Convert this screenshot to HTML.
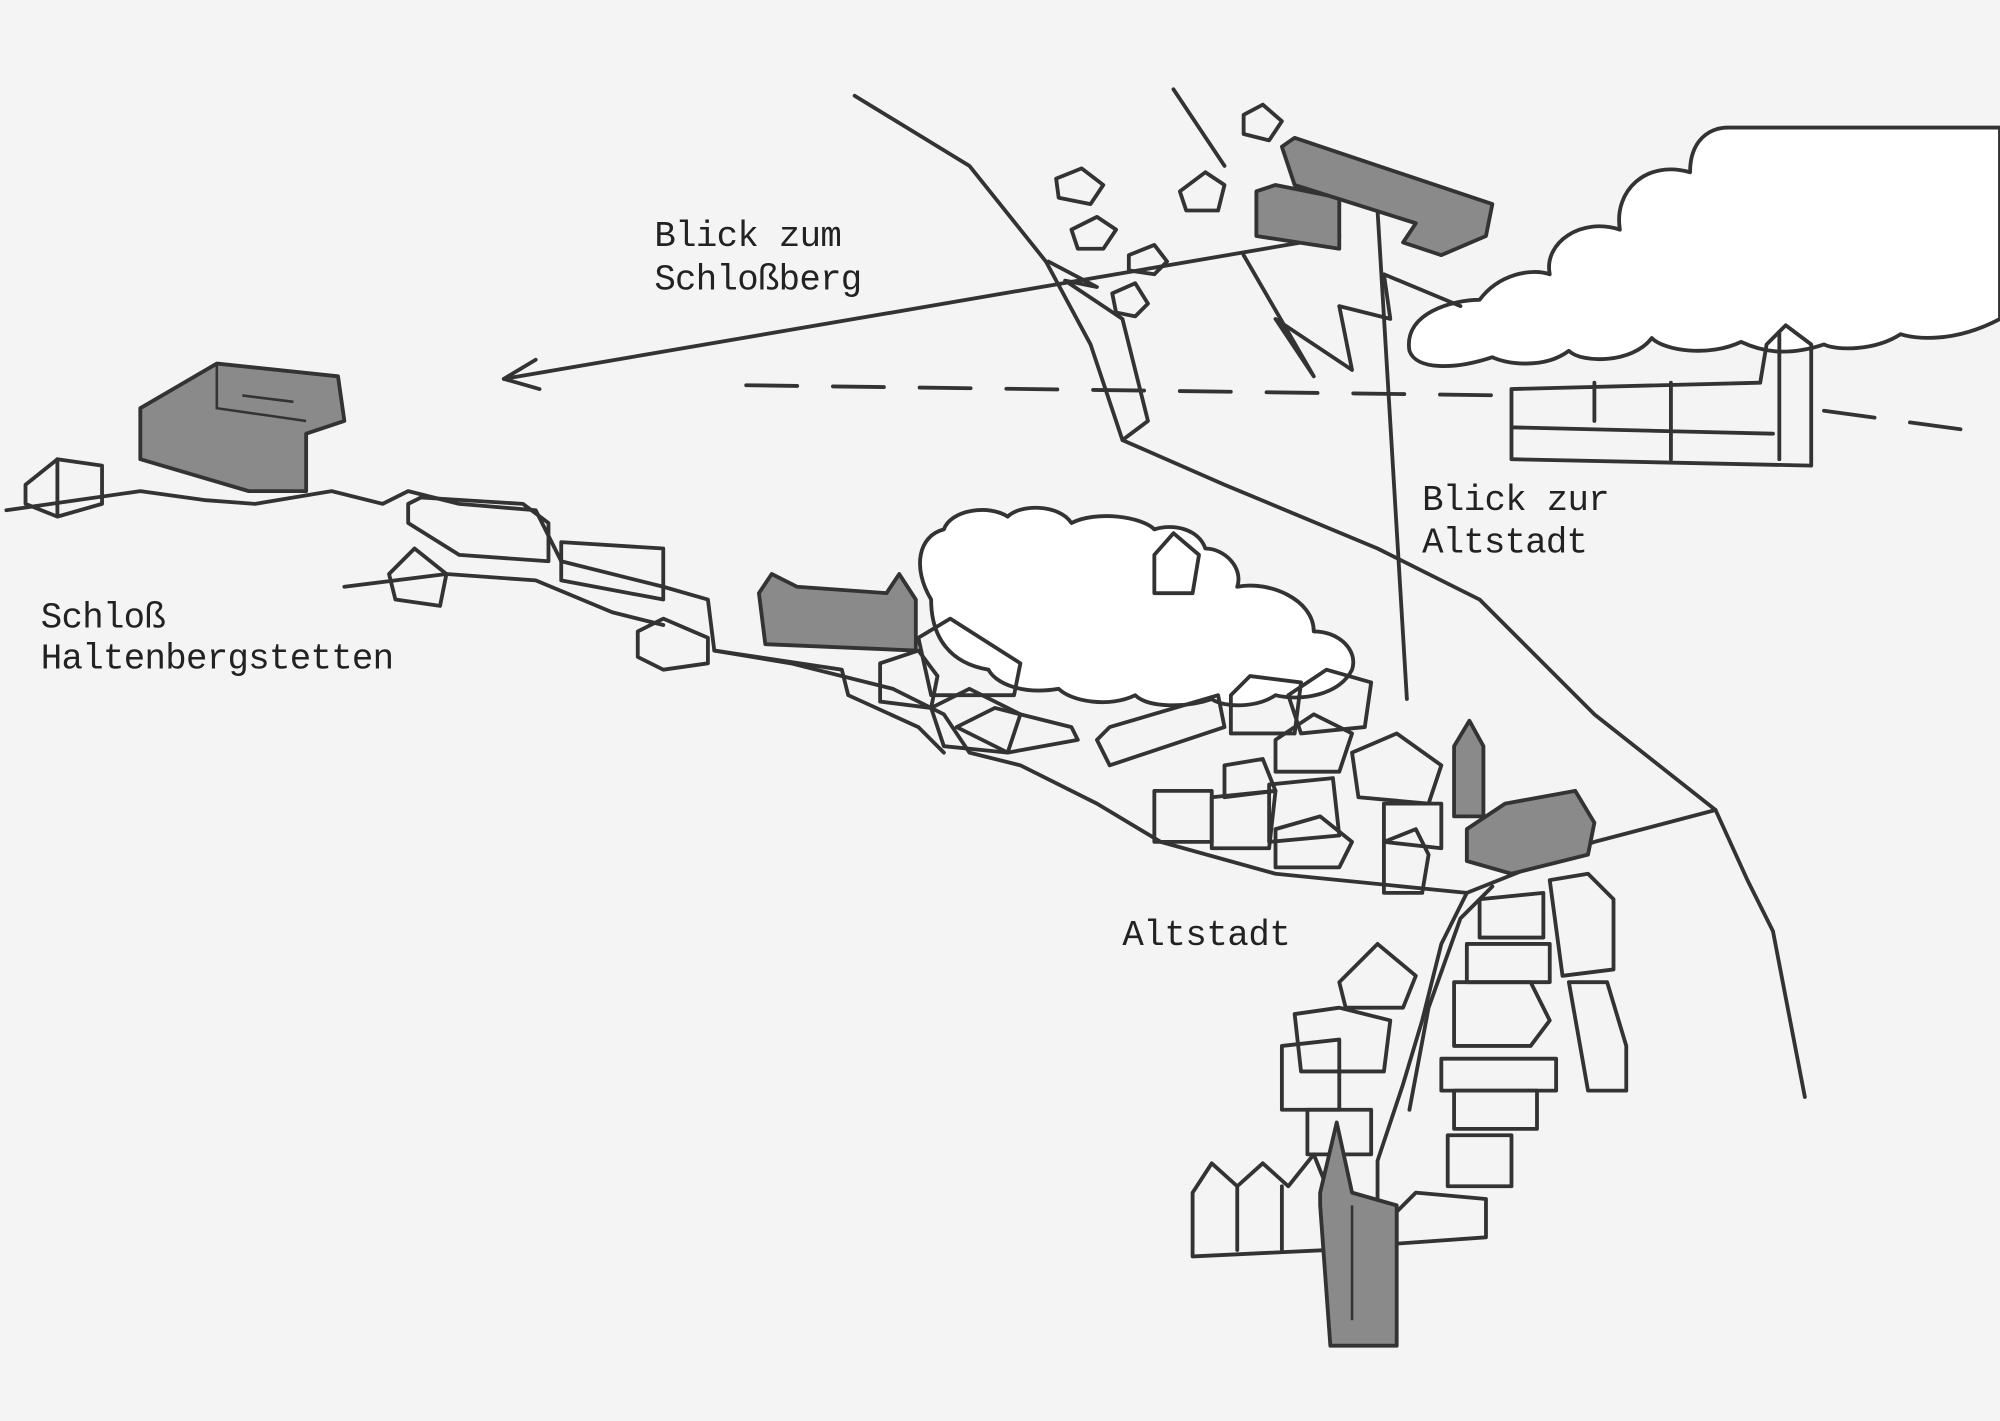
<!DOCTYPE html>
<html><head><meta charset="utf-8"><style>
html,body{margin:0;padding:0;background:#f4f4f4;}
svg{display:block;}
text{font-family:"Liberation Mono",monospace;font-size:28px;fill:#222;}
</style></head><body>
<svg width="2000" height="1421" viewBox="0 0 1568 1114" xmlns="http://www.w3.org/2000/svg">
<rect width="1568" height="1114" fill="#f4f4f4"/>
<!-- white sky area top right -->
<path d="M1355,100 L1568,100 L1568,250 L1490,265 L1440,270 Z" fill="#fff"/>
<g fill="none" stroke="#333" stroke-width="3" stroke-linejoin="round" stroke-linecap="round">
<!-- right cloud -->
<path d="M1105,275 C1100,245 1140,235 1160,235 C1175,215 1200,210 1215,215 C1210,190 1240,170 1270,180 C1265,150 1290,125 1325,135 C1325,110 1340,100 1355,100 L1568,100 L1568,250 C1530,270 1500,265 1490,262 C1470,275 1440,275 1430,270 C1400,280 1380,275 1365,268 C1340,280 1305,275 1295,265 C1280,285 1240,285 1230,275 C1210,290 1180,285 1170,280 C1140,290 1110,290 1105,275 Z" fill="#fff"/>
<!-- middle cloud -->
<path d="M730,470 C715,445 720,420 740,415 C745,400 775,395 790,405 C800,395 830,395 840,410 C860,400 895,405 905,415 C920,410 940,415 945,430 C960,430 975,445 970,460 C995,455 1030,470 1030,495 C1050,495 1065,510 1060,525 C1050,545 1020,550 1000,545 C985,555 960,555 950,548 C930,555 900,555 890,545 C870,555 840,550 830,540 C800,545 780,535 775,525 C745,520 730,500 730,470 Z" fill="#fff"/>
<!-- main road lines -->
<path d="M670,75 L760,130 L820,205 L855,270 L880,345 L960,380 L1080,430 L1160,470 L1250,560 L1345,635 L1370,690 L1390,730 L1415,860"/>
<path d="M822,205 L860,225 L835,220 L880,250 L900,330 L880,345"/>
<path d="M920,70 L960,130"/>
<path d="M975,200 L1030,295 L1000,250 L1060,290 L1050,240 L1090,250 L1085,215 L1145,240"/>
<path d="M1080,165 L1103,548"/>
<!-- arrow -->
<path d="M1050,185 L395,297"/>
<path d="M420,282 L395,297 L423,305"/>
<!-- dashed line -->
<path d="M585,302 L1180,310" stroke-dasharray="40,28"/>
<path d="M1430,322 L1548,338" stroke-dasharray="40,28"/>
<!-- right town block -->
<path d="M1185,305 L1185,360 L1420,365 M1185,335 L1390,340 M1250,300 L1250,330 M1310,300 L1310,360 M1185,305 L1380,300 M1380,300 L1385,270 L1400,255 L1420,270 L1420,365 M1395,260 L1395,360"/>
<!-- hill line -->
<path d="M5,400 L110,385 L160,392 L200,395 L260,385 L300,395 L320,385 L360,395 L420,400 L440,440 L520,460 L555,470 L560,510 L620,520 L700,540 L740,560 L760,590 L800,600 L860,630 L910,660 L1000,685 L1150,700 L1250,660 L1345,635"/>
<path d="M270,460 L350,450 L420,455 L480,480 L520,490"/>
<path d="M560,510 L660,525 L665,545 L720,570 L740,590"/>
<path d="M1150,700 L1130,740 L1115,800 L1100,850 L1080,910 L1080,950"/>
<path d="M1170,695 L1145,720 L1120,790 L1105,870"/>
<!-- small houses -->
<path d="M20,380 L45,360 L80,365 L80,395 L45,405 L20,395 Z M45,360 L45,405"/>
<path d="M320,395 L330,390 L410,395 L430,410 L430,440 L360,435 L320,410 Z"/>
<path d="M440,425 L520,430 L520,470 L440,455 Z"/>
<path d="M500,495 L520,485 L555,500 L555,520 L520,525 L500,515 Z"/>
<path d="M305,450 L325,430 L350,450 L345,475 L310,470 Z"/>
<path d="M905,435 L920,418 L940,435 L935,465 L905,465 Z"/>
<path d="M975,90 L990,82 L1005,95 L995,110 L975,105 Z"/>
<path d="M925,150 L945,135 L960,145 L955,165 L930,165 Z"/>
<path d="M828,140 L848,132 L865,145 L855,160 L830,155 Z"/>
<path d="M840,180 L860,170 L875,180 L865,195 L845,195 Z"/>
<path d="M885,200 L905,192 L915,205 L905,215 L885,212 Z"/>
<path d="M872,230 L890,222 L900,238 L890,248 L875,245 Z"/>
<!-- altstadt houses -->
<path d="M690,520 L720,510 L735,530 L730,555 L690,550 Z"/>
<path d="M720,500 L745,485 L800,520 L795,545 L730,545 Z"/>
<path d="M730,555 L760,540 L800,560 L790,590 L740,585 Z"/>
<path d="M750,570 L780,555 L840,570 L845,580 L790,590 Z"/>
<path d="M860,580 L870,570 L955,545 L960,570 L870,600 Z"/>
<path d="M965,545 L980,530 L1020,535 L1015,575 L965,575 Z"/>
<path d="M1010,545 L1040,525 L1075,535 L1070,570 L1020,575 Z"/>
<path d="M1000,580 L1030,560 L1060,575 L1050,605 L1000,605 Z"/>
<path d="M960,600 L990,595 L1000,620 L960,625 Z"/>
<path d="M905,620 L950,620 L950,660 L905,660 Z"/>
<path d="M950,625 L1000,620 L995,665 L950,665 Z"/>
<path d="M995,615 L1045,610 L1050,655 L995,660 Z"/>
<path d="M1000,650 L1035,640 L1060,660 L1050,680 L1000,680 Z"/>
<path d="M1060,590 L1095,575 L1130,600 L1120,630 L1065,625 Z"/>
<path d="M1085,630 L1130,630 L1130,665 L1085,660 Z"/>
<path d="M1085,660 L1110,650 L1120,670 L1115,700 L1085,700 Z"/>
<!-- lower street houses -->
<path d="M1050,770 L1080,740 L1110,765 L1100,790 L1055,790 Z"/>
<path d="M1015,795 L1050,790 L1090,800 L1085,840 L1020,840 Z"/>
<path d="M1005,820 L1050,815 L1050,870 L1005,870 Z"/>
<path d="M1025,870 L1075,870 L1075,905 L1025,905 Z"/>
<path d="M1160,705 L1210,700 L1210,735 L1160,735 Z"/>
<path d="M1150,740 L1215,740 L1215,770 L1150,770 Z"/>
<path d="M1140,770 L1200,770 L1215,800 L1200,820 L1140,820 Z"/>
<path d="M1130,830 L1220,830 L1220,855 L1130,855 Z"/>
<path d="M1140,855 L1205,855 L1205,885 L1140,885 Z"/>
<path d="M1135,890 L1185,890 L1185,930 L1135,930 Z"/>
<path d="M1215,690 L1245,685 L1265,705 L1265,760 L1225,765 Z"/>
<path d="M1230,770 L1260,770 L1275,820 L1275,855 L1245,855 Z"/>
<path d="M935,935 L950,912 L970,930 L990,912 L1010,930 L1030,905 L1040,930 L1040,980 L935,985 Z M970,930 L970,980 M1005,930 L1005,980"/>
<path d="M1095,950 L1110,935 L1165,940 L1165,970 L1095,975 Z"/>
</g>
<!-- gray buildings -->
<g fill="#8a8a8a" stroke="#333" stroke-width="3" stroke-linejoin="round">
<path d="M110,320 L170,285 L265,295 L270,330 L240,340 L240,385 L195,385 L110,360 Z"/>
<path d="M595,465 L605,450 L625,460 L695,465 L705,450 L718,470 L718,510 L600,505 Z"/>
<path d="M1140,585 L1152,565 L1163,585 L1163,640 L1140,640 Z"/>
<path d="M1150,650 L1180,630 L1235,620 L1250,645 L1245,670 L1185,685 L1150,675 Z"/>
<path d="M985,150 L1000,145 L1050,155 L1050,195 L985,185 Z"/>
<path d="M1005,115 L1015,108 L1170,160 L1165,185 L1130,200 L1100,190 L1110,175 L1015,145 Z"/>
<path d="M1035,945 L1035,935 L1048,880 L1060,935 L1095,945 L1095,1055 L1043,1055 Z"/>
</g>
<g stroke="#333" stroke-width="2" fill="none">
<path d="M170,285 L170,320 L240,330 M190,310 L230,315 M1060,945 L1060,1035"/>
</g>
<text x="513" y="193" textLength="147">Blick zum</text>
<text x="513" y="227" textLength="163">Schloßberg</text>
<text x="1115" y="400" textLength="147">Blick zur</text>
<text x="1115" y="433" textLength="130">Altstadt</text>
<text x="32" y="492" textLength="98">Schloß</text>
<text x="32" y="524" textLength="277">Haltenbergstetten</text>
<text x="880" y="741" textLength="132">Altstadt</text>
</svg>
</body></html>
